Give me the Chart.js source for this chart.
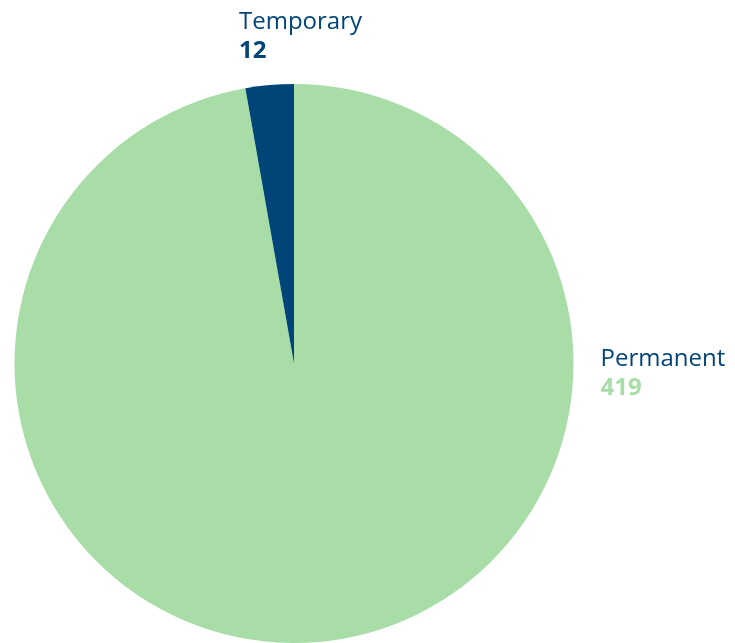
<!DOCTYPE html>
<html>
<head>
<meta charset="utf-8">
<script src="https://cdn.jsdelivr.net/npm/chart.js@4"></script>
<style>
  html, body { margin: 0; padding: 0; background: #fff; }
  .wrap { width: 735px; height: 643px; position: relative; }
</style>
</head>
<body>
<div class="wrap"><canvas id="pie"></canvas></div>
<script>
const labels = ['Permanent', 'Temporary'];
const values = [419, 12];
const colors = ['#a8dda8', '#004578'];

// draws the category name + value next to each slice
const sliceLabels = {
  id: 'sliceLabels',
  afterDraw(chart) {
    const ctx = chart.ctx;
    const arc = chart.getDatasetMeta(0).data[0];
    const cx = arc.x, cy = arc.y, r = arc.outerRadius;
    ctx.save();
    ctx.textAlign = 'left';
    ctx.textBaseline = 'alphabetic';
    // Temporary, above the top of the pie
    ctx.fillStyle = '#004578';
    ctx.font = '500 24px "Open Sans"';
    ctx.fillText(labels[1], cx - 55, 29);
    ctx.font = '700 24px "Open Sans"';
    ctx.fillText(String(values[1]), cx - 55, 58);
    // Permanent, to the right
    ctx.font = '500 24px "Open Sans"';
    ctx.fillText(labels[0], cx + r + 27, cy + 2);
    ctx.fillStyle = colors[0];
    ctx.font = '700 24px "Open Sans"';
    ctx.fillText(String(values[0]), cx + r + 27, cy + 31);
    ctx.restore();
  }
};

new Chart(document.getElementById('pie'), {
  type: 'pie',
  data: {
    labels: labels,
    datasets: [{ data: values, backgroundColor: colors, borderWidth: 0 }]
  },
  options: {
    responsive: true,
    maintainAspectRatio: false,
    animation: false,
    layout: { padding: { left: 14, right: 161, top: 84, bottom: 0 } },
    plugins: { legend: { display: false }, tooltip: { enabled: false } }
  },
  plugins: [sliceLabels]
});
</script>
</body>
</html>
